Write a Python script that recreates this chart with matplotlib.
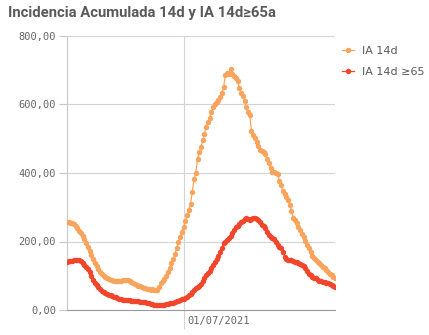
import numpy as np
import pandas as pd
import matplotlib
matplotlib.use("Agg")
import matplotlib.pyplot as plt
import matplotlib.dates as mdates
import matplotlib.transforms as mtransforms
from matplotlib.ticker import FuncFormatter

# Datos (IA por 100.000 hab.)
start_date = "2021-04-25"
ia_14d = [
    257, 256, 255, 253, 250, 246, 239, 231, 225, 215,
    207, 197, 184, 172, 160, 149, 138, 128, 119, 111,
    105, 100, 96, 93, 90, 88, 87, 86, 85, 85,
    85, 86, 87, 88, 88, 87, 84, 82, 79, 76,
    73, 71, 69, 66, 64, 63, 62, 60, 59, 60,
    58, 57, 59, 68, 78, 86, 91, 100, 112, 124,
    136, 148, 164, 180, 199, 214, 229, 243, 260, 278,
    292, 310, 345, 382, 400, 440, 460, 476, 496, 515,
    535, 550, 562, 578, 593, 600, 606, 614, 622, 633,
    650, 686, 692, 690, 703, 690, 682, 676, 668, 648,
    635, 624, 610, 594, 578, 570, 522, 511, 503, 490,
    478, 467, 463, 460, 455, 440, 430, 415, 403, 402,
    401, 396, 378, 364, 348, 340, 331, 320, 308, 290,
    270, 264, 253, 243, 234, 223, 212, 202, 190, 180,
    168, 159, 152, 146, 141, 136, 131, 127, 122, 117,
    111, 106, 101, 97, 93,
]
ia_14d_65 = [
    140, 142, 144, 143, 146, 145, 147, 146, 144, 138,
    132, 126, 119, 110, 99, 88, 80, 73, 66, 61,
    56, 53, 50, 47, 45, 43, 41, 39, 37, 35,
    33, 32, 30, 29, 29, 28, 28, 27, 27, 26,
    26, 25, 24, 24, 23, 22, 20, 19, 18, 17,
    16, 15, 15, 14, 15, 15, 16, 17, 18, 19,
    20, 21, 23, 25, 27, 29, 31, 33, 36, 39,
    43, 47, 52, 58, 63, 66, 70, 77, 85, 94,
    101, 108, 115, 122, 130, 139, 148, 158, 169, 182,
    195, 200, 205, 209, 216, 225, 234, 241, 246, 252,
    256, 260, 266, 268, 265, 263, 266, 268, 269, 266,
    263, 256, 249, 245, 240, 228, 218, 213, 209, 206,
    200, 190, 183, 182, 168, 156, 150, 146, 145, 146,
    144, 141, 139, 137, 134, 131, 128, 124, 114, 106,
    101, 97, 94, 92, 88, 86, 84, 82, 81, 80,
    79, 77, 74, 71, 68,
]
y_ticks = [0, 200, 400, 600, 800]
x_tick_date = "2021-07-01"

fechas = pd.date_range(start_date, periods=len(ia_14d), freq="D")

c_ia = "#f9a45c"
c_65 = "#f1462b"
c_txt = "#595959"
c_grid = "#d4d4d4"

fig = plt.figure(figsize=(4.29, 3.35), dpi=100)
ax = fig.add_axes([67 / 429, 25 / 335, 268 / 429, 274 / 335])

ax.plot(fechas, ia_14d, color=c_ia, lw=0.9, marker="o", ms=3.9,
        mec="none", label="IA 14d", zorder=3)
ax.plot(fechas, ia_14d_65, color=c_65, lw=0.9, marker="o", ms=3.9,
        mec="none", label="IA 14d ≥65", zorder=4)

ax.set_xlim(fechas[0], fechas[-1])
ax.set_ylim(0, 800)
ax.set_yticks(y_ticks)
ax.yaxis.set_major_formatter(FuncFormatter(lambda v, p: f"{v:.2f}".replace(".", ",")))
ax.set_xticks([pd.Timestamp(x_tick_date)])
ax.xaxis.set_major_formatter(mdates.DateFormatter("%d/%m/%Y"))

ax.grid(True, color=c_grid, lw=0.8)
ax.set_axisbelow(True)
for s in ["top", "right"]:
    ax.spines[s].set_visible(False)
ax.spines["left"].set_color("#c8c8c8")
ax.spines["bottom"].set_color("#9a9a9a")

ax.tick_params(axis="y", length=6, color="#c8c8c8", labelsize=7.5,
               labelcolor="#666666", pad=2)
ax.tick_params(axis="x", length=14, color=c_grid, labelsize=7.5,
               labelcolor="#666666", pad=-10)
for lab in ax.get_yticklabels() + ax.get_xticklabels():
    lab.set_family("DejaVu Sans Mono")
for lab in ax.get_xticklabels():
    lab.set_horizontalalignment("left")
    lab.set_transform(lab.get_transform() +
                      mtransforms.ScaledTranslation(3 / 72, 0, fig.dpi_scale_trans))

fig.text(8 / 429, 1 - 13 / 335, "Incidencia Acumulada 14d y IA 14d≥65a",
         fontsize=10.7, fontweight="bold", color=c_txt, va="center", ha="left",
         family=["Roboto", "DejaVu Sans"])

fig.legend(loc="upper left", bbox_to_anchor=(342 / 429, 1 - 46 / 335),
           frameon=False, handlelength=1.1, handletextpad=0.7,
           labelspacing=1.0, fontsize=8, labelcolor=c_txt,
           borderaxespad=0, borderpad=0)

fig.savefig("out.png", dpi=100)
